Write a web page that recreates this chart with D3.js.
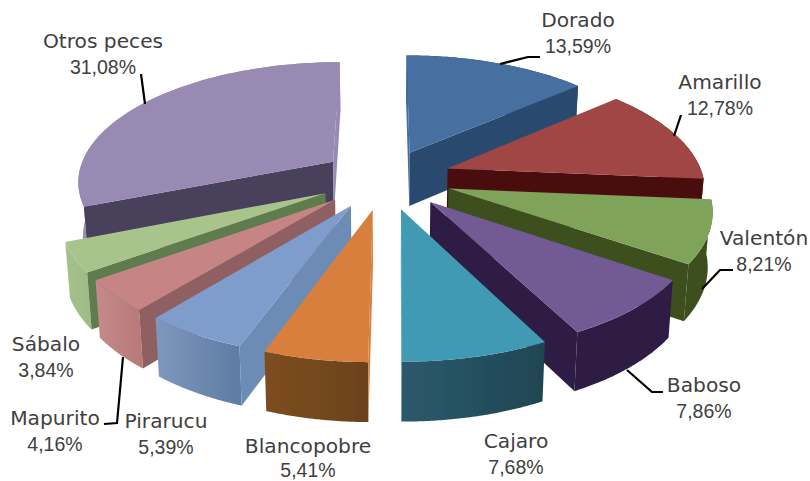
<!DOCTYPE html>
<html>
<head>
<meta charset="utf-8">
<script src="https://cdn.jsdelivr.net/npm/d3@7/dist/d3.min.js"></script>
<style>
html,body{margin:0;padding:0;background:#fff;overflow:hidden}
svg{display:block}
text{fill:#404040;text-anchor:middle}
.name{font-family:"DejaVu Sans",sans-serif;font-size:20.2px}
.pct{font-family:"Liberation Sans",sans-serif;font-size:19.5px}
</style>
</head>
<body>
<svg id="chart" width="810" height="481" viewBox="0 0 810 481"></svg>
<script>
const categories = ["Dorado","Amarillo","Valentón","Baboso","Cajaro","Blancopobre","Pirarucu","Mapurito","Sábalo","Otros peces"];
const values = [13.59,12.78,8.21,7.86,7.68,5.41,5.39,4.16,3.84,31.08];
const explosion = [0.24,0.26,0.26,0.26,0.26,0.26,0.26,0.26,0.26,0.25];

const topColors = ["#44709f","#a04644","#80a35a","#725a94","#3f9ab4","#d97f3d","#7f9dcc","#c68584","#a8c48a","#998ab4"];
const sideColors = ["#2b4a6e","#4a1010","#3c4f1e","#2e1f45","#1f4552","#6b421c","#6d8cb5","#8f5f62","#5f7b4f","#483f5c"];
const outerLeft = ["#2b4a6e","#4a1010","#3c4f1e","#2e1f45","#2b5a6c","#7d4e20","#7f97bd","#c68a8a","#a6c28b","#9a8cb6"];
const outerRight = ["#2b4a6e","#4a1010","#3c4f1e","#2e1f45","#1f4552","#6b421c","#5e7ca3","#b87a7a","#a0bc86","#9a8cb6"];
const drawOrder = [9,0,1,2,8,7,6,3,5,4];

const labelX = [578,720,764,704,516,308,166,55,46,103];
const labelY = [27,89,245,392,448,453,428,425,351,48];
const labelGap = [25.5,25.5,25.5,25.5,25.5,23.5,25.5,25.5,25.5,25.5];
const leaders = [
  [[500,64],[528,57],[540,57]],
  [[674,136],[681,115]],
  [[702,289],[720,270],[733,270]],
  [[627,370],[652,392],[663,392]],
  null,null,null,
  [[123,357],[117,423],[104,424]],
  null,
  [[145,104],[141,74]]
];

const cx = 385, cy = 178, scaleX = 256, scaleY = 119, persp = 0.15,
      thickness = 54, bottomShrink = 0.985, thinWall = 650;

const svg = d3.select("#chart");
const defs = svg.append("defs");
defs.append("filter").attr("id","soft")
  .attr("x","-5%").attr("y","-5%").attr("width","110%").attr("height","110%")
  .append("feGaussianBlur").attr("stdDeviation",0.45);

function project(X, Y, bottom) {
  const d = 1 - persp * Y;
  const sx = cx + scaleX * X / d;
  const sy = cy + scaleY * Y / d;
  return bottom ? [cx + (sx - cx) * bottomShrink, sy + thickness / Math.sqrt(d)] : [sx, sy];
}

const arcs = d3.pie().sort(null).startAngle(0).endAngle(2 * Math.PI)(values);
const closed = d3.line().curve(d3.curveLinearClosed);
const chart = svg.append("g").attr("filter","url(#soft)");

drawOrder.forEach(i => {
  const a = arcs[i];
  const mid = (a.startAngle + a.endAngle) / 2;
  const ax = explosion[i] * Math.sin(mid), ay = -explosion[i] * Math.cos(mid);
  const rim = t => [ax + Math.sin(t), ay - Math.cos(t)];
  const steps = d3.range(0, 61).map(k => a.startAngle + (a.endAngle - a.startAngle) * k / 60);
  const apexT = project(ax, ay, false), apexB = project(ax, ay, true);
  const rimT = steps.map(t => project(...rim(t), false));
  const rimB = steps.map(t => project(...rim(t), true));

  const xs = rimT.map(p => p[0]);
  const gid = "g" + i;
  const grad = defs.append("linearGradient").attr("id",gid)
    .attr("gradientUnits","userSpaceOnUse")
    .attr("x1",d3.min(xs)).attr("x2",d3.max(xs)).attr("y1",0).attr("y2",0);
  grad.append("stop").attr("offset",0).attr("stop-color",outerLeft[i]);
  grad.append("stop").attr("offset",1).attr("stop-color",outerRight[i]);
  chart.append("path")
    .attr("d", closed(rimT.concat(rimB.slice().reverse())))
    .attr("fill",`url(#${gid})`);

  // radial side walls: only those facing the viewer; grazing ones take the face colour
  const wall0 = [apexT, rimT[0], rimB[0], apexB];
  const wall1 = [apexT, rimT[60], rimB[60], apexB];
  [[wall0, d3.polygonArea(wall0)], [wall1, -d3.polygonArea(wall1)]].forEach(([w, area]) => {
    if (area > 0) chart.append("path").attr("d",closed(w))
      .attr("fill", area < thinWall ? topColors[i] : sideColors[i]);
  });

  chart.append("path")
    .attr("d", closed([apexT].concat(rimT)))
    .attr("fill",topColors[i]);
});

const leaderLine = d3.line();
leaders.forEach(pts => {
  if (pts) svg.append("path").attr("d",leaderLine(pts))
    .attr("fill","none").attr("stroke","#000").attr("stroke-width",2.2);
});

categories.forEach((name,i) => {
  svg.append("text").attr("class","name").attr("x",labelX[i]).attr("y",labelY[i]).text(name);
  svg.append("text").attr("class","pct").attr("x",labelX[i]).attr("y",labelY[i] + labelGap[i])
    .text(values[i].toFixed(2).replace(".",",") + "%");
});
</script>
</body>
</html>
